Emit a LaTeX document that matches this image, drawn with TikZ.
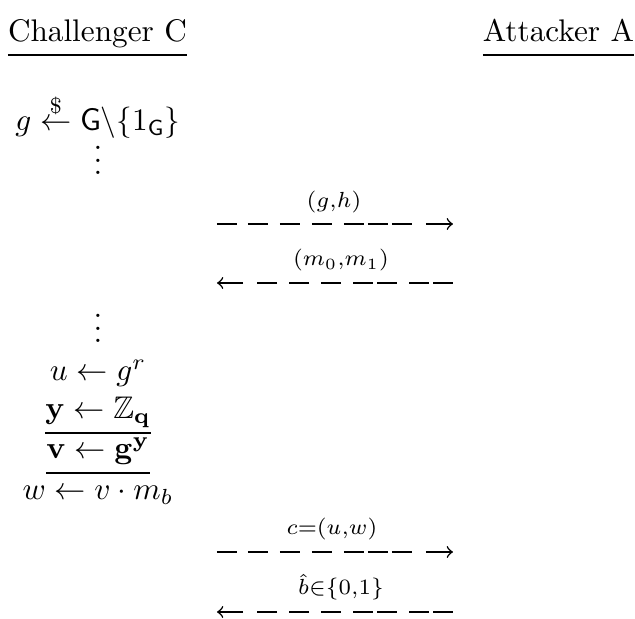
\documentclass[tikz,border=0pt]{standalone}
\usepackage{amsmath,amssymb}
\usetikzlibrary{calc}
\newcommand{\colvdots}{\vbox{\baselineskip4pt \lineskiplimit0pt \hbox{.}\hbox{.}\hbox{.}}}
\tikzset{
  txt/.style={anchor=base, inner sep=0pt, outer sep=0pt},
  uline/.style={line width=0.65pt},
  msgline/.style={line width=0.5pt, line cap=butt},
  dashright/.style={msgline, -to, dash pattern=on 6.4pt off 3.52pt on 6.4pt off 3.84pt on 6.4pt off 3.84pt on 6.4pt off 3.84pt on 6.4pt off 1.28pt on 6.4pt off 1.28pt on 6.4pt off 4.48pt on 40pt},
  dashleft/.style={msgline, -to, dash pattern=on 6.4pt off 1.28pt on 6.4pt off 3.84pt on 6.4pt off 1.28pt on 6.4pt off 3.84pt on 6.4pt off 3.84pt on 6.4pt off 3.84pt on 6.4pt off 4.48pt on 40pt},
}
\begin{document}
\begin{tikzpicture}[x=0.32pt,y=-0.32pt]
\useasboundingbox (0,0) rectangle (635,619);
% headers
\node[txt, anchor=base west] (chal) at (8,42) {Challenger C};
\node[txt, anchor=base east] (att) at (634,42) {Attacker A};
\draw[uline] ($(chal.base west)+(0,13)$) -- ($(chal.base east)+(0,13)$);
\draw[uline] ($(att.base west)+(0,13)$) -- ($(att.base east)+(0,13)$);
% challenger column
\node[txt] (grow) at (98,131) {$g \stackrel{\$}{\leftarrow} \mathsf{G}\backslash\{1_{\mathsf{G}}\}$};
\node[txt] (dotsa) at (98,175) {\colvdots};
\node[txt] (dotsb) at (98,343) {\colvdots};
\node[txt] (urow) at (98,381) {$u \leftarrow g^r$};
\node[txt] (yrow) at (98,419) {$\mathbf{y} \leftarrow \mathbb{Z}_{\mathbf{q}}$};
\draw[uline] ($(yrow.base west)+(0,14)$) -- ($(yrow.base east)+(0,14)$);
\node[txt] (vrow) at (98,459) {$\mathbf{v} \leftarrow \mathbf{g}^{\mathbf{y}}$};
\draw[uline] ($(vrow.base west)+(0,14)$) -- ($(vrow.base east)+(0,14)$);
\node[txt] (wrow) at (98,500) {$w \leftarrow v \cdot m_b$};
% messages
\coordinate (m1l) at (217,224); \coordinate (m1r) at (453,224);
\draw[dashright] (m1l) -- (m1r);
\node[txt] (lab1) at (334,208) {$\scriptstyle (g,h)$};
\coordinate (m2l) at (217,283); \coordinate (m2r) at (453,283);
\draw[dashleft] (m2r) -- (m2l);
\node[txt] (lab2) at (341,266) {$\scriptstyle (m_0,m_1)$};
\coordinate (m3l) at (217,552); \coordinate (m3r) at (453,552);
\draw[dashright] (m3l) -- (m3r);
\node[txt] (lab3) at (332,535) {$\scriptstyle c=(u,w)$};
\coordinate (m4l) at (217,612); \coordinate (m4r) at (453,612);
\draw[dashleft] (m4r) -- (m4l);
\node[txt] (lab4) at (341,595) {$\scriptstyle \hat{b}\in\{0,1\}$};
\end{tikzpicture}
\end{document}
